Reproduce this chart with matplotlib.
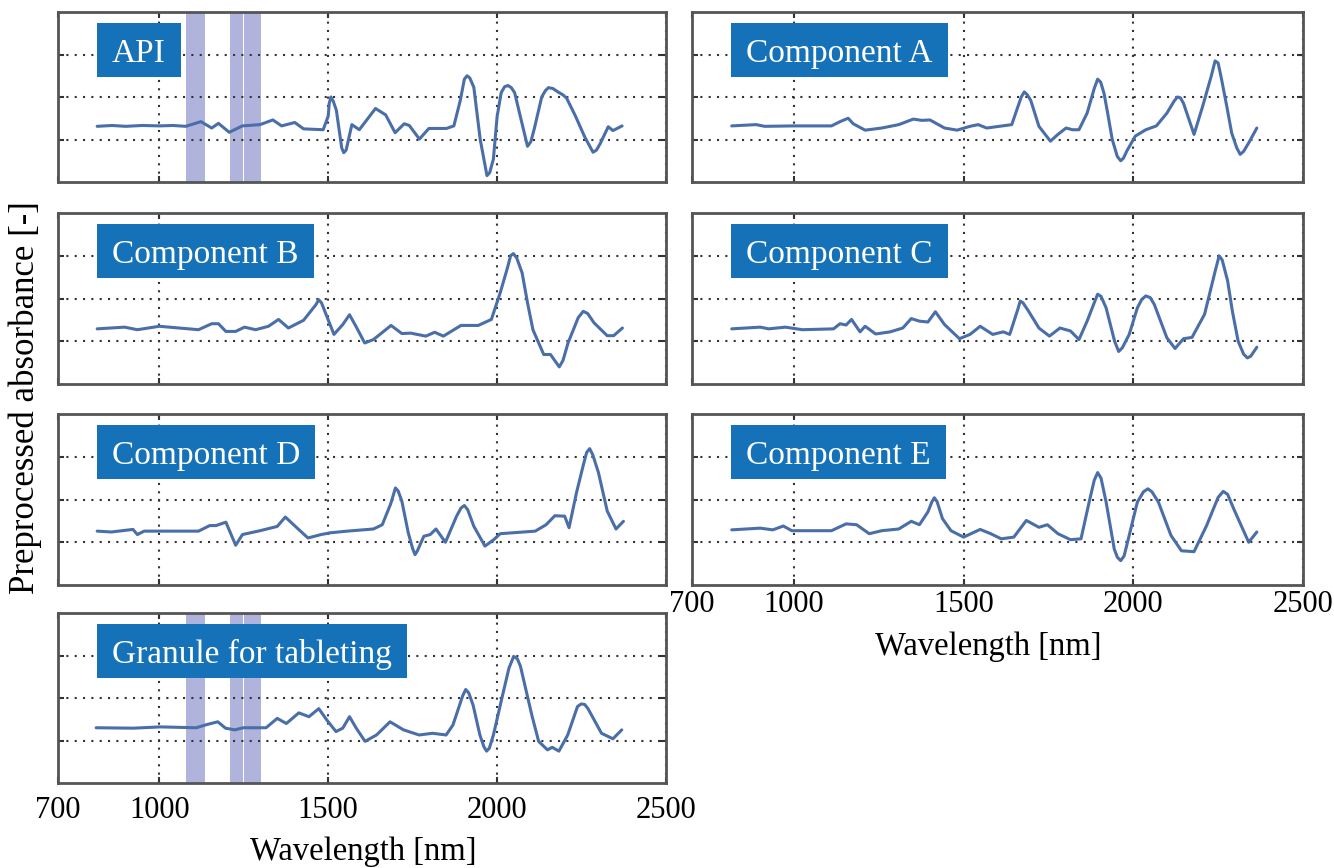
import matplotlib
matplotlib.use("Agg")
import matplotlib.pyplot as plt
import numpy as np
from matplotlib.patches import Rectangle

plt.rcParams['font.family'] = ['Liberation Serif', 'DejaVu Serif']

# ---------------- data ----------------
xticks = [700, 1000, 1500, 2000, 2500]
xticklabels = ["700", "1000", "1500", "2000", "2500"]
bands = [(1080, 1135), (1210, 1249), (1252, 1300)]

api_nm = [816, 860, 900, 950, 1000, 1040, 1078, 1123, 1155, 1175, 1207, 1246, 1298, 1336, 1362,
          1401, 1427, 1485, 1500, 1503, 1508, 1515, 1524, 1540, 1546, 1553, 1570, 1592, 1640, 1670,
          1698, 1725, 1740, 1770, 1798, 1850, 1872, 1891, 1903, 1911, 1919, 1931, 1950, 1970, 1978,
          1989, 2000, 2012, 2022, 2032, 2042, 2052, 2070, 2090, 2100, 2110, 2132, 2143, 2152, 2165,
          2180, 2195, 2206, 2232, 2260, 2284, 2294, 2305, 2329, 2343, 2370]
api_val = [1.31, 1.33, 1.31, 1.33, 1.32, 1.33, 1.31, 1.42, 1.27, 1.38, 1.17, 1.32, 1.35, 1.46, 1.32,
           1.40, 1.25, 1.23, 1.55, 1.85, 2.0, 1.9, 1.69, 0.8, 0.69, 0.75, 1.35, 1.23, 1.73, 1.58,
           1.16, 1.37, 1.33, 1.01, 1.26, 1.26, 1.32, 1.92, 2.42, 2.5, 2.45, 2.23, 1.0, 0.15, 0.22,
           0.54, 1.54, 2.1, 2.24, 2.27, 2.22, 2.1, 1.5, 0.84, 0.95, 1.25, 2.0, 2.15, 2.22, 2.2,
           2.12, 2.05, 1.97, 1.55, 1.05, 0.70, 0.75, 0.90, 1.30, 1.21, 1.32]

a_nm = [817, 889, 914, 1000, 1111, 1136, 1160, 1175, 1210, 1259, 1309, 1352, 1377, 1401, 1444,
        1481, 1519, 1543, 1568, 1605, 1642, 1660, 1670, 1679, 1688, 1698, 1722, 1756, 1778, 1802,
        1821, 1840, 1864, 1885, 1895, 1904, 1914, 1925, 1938, 1953, 1963, 1971, 1981, 2006, 2037,
        2068, 2099, 2120, 2130, 2139, 2148, 2179, 2204, 2230, 2241, 2250, 2259, 2275, 2290, 2305,
        2315, 2325, 2340, 2364]
a_val = [1.32, 1.35, 1.31, 1.32, 1.32, 1.42, 1.50, 1.37, 1.22, 1.27, 1.35, 1.48, 1.45, 1.46, 1.27,
         1.22, 1.31, 1.35, 1.27, 1.31, 1.35, 1.77, 2.0, 2.12, 2.05, 1.92, 1.31, 0.96, 1.12, 1.27,
         1.23, 1.23, 1.62, 2.2, 2.42, 2.35, 2.08, 1.6, 1.0, 0.6, 0.5, 0.56, 0.73, 1.08, 1.23,
         1.32, 1.62, 1.9, 2.0, 1.98, 1.85, 1.12, 1.77, 2.5, 2.85, 2.8, 2.46, 1.8, 1.15, 0.8,
         0.65, 0.72, 0.92, 1.27]

b_nm = [816, 897, 935, 1000, 1116, 1155, 1175, 1197, 1226, 1252, 1285, 1323, 1353, 1382, 1427,
        1463, 1472, 1480, 1492, 1517, 1543, 1563, 1582, 1608, 1634, 1686, 1718, 1744, 1789, 1815,
        1841, 1893, 1944, 1983, 2009, 2030, 2040, 2048, 2058, 2074, 2090, 2106, 2138, 2158, 2175,
        2184, 2195, 2210, 2240, 2255, 2268, 2287, 2326, 2345, 2371]
b_val = [1.29, 1.33, 1.27, 1.35, 1.27, 1.41, 1.41, 1.23, 1.23, 1.33, 1.27, 1.35, 1.51, 1.31, 1.49,
         1.85, 1.97, 1.9, 1.66, 1.16, 1.39, 1.62, 1.35, 0.96, 1.04, 1.37, 1.18, 1.19, 1.12, 1.21,
         1.12, 1.37, 1.37, 1.51, 2.13, 2.7, 3.0, 3.05, 2.95, 2.6, 1.9, 1.27, 0.69, 0.69, 0.5,
         0.40, 0.55, 0.96, 1.55, 1.70, 1.65, 1.43, 1.13, 1.13, 1.31]

c_nm = [817, 901, 926, 975, 1025, 1117, 1136, 1154, 1170, 1195, 1210, 1241, 1284, 1321, 1346,
        1370, 1395, 1417, 1444, 1488, 1519, 1549, 1586, 1617, 1636, 1660, 1667, 1675, 1691, 1722,
        1753, 1784, 1815, 1840, 1864, 1885, 1895, 1905, 1920, 1945, 1957, 1968, 1988, 2012, 2025,
        2037, 2050, 2062, 2099, 2123, 2148, 2173, 2210, 2240, 2253, 2262, 2278, 2292, 2309, 2325,
        2336, 2346, 2364]
c_val = [1.29, 1.33, 1.29, 1.33, 1.27, 1.29, 1.41, 1.38, 1.51, 1.22, 1.35, 1.17, 1.22, 1.31, 1.53,
         1.47, 1.45, 1.69, 1.39, 1.06, 1.16, 1.35, 1.16, 1.22, 1.16, 1.75, 1.94, 1.9, 1.71, 1.31,
         1.12, 1.31, 1.24, 1.04, 1.47, 1.9, 2.1, 2.05, 1.78, 1.0, 0.76, 0.85, 1.16, 1.78, 1.98,
         2.06, 2.02, 1.86, 1.08, 0.83, 1.06, 1.09, 1.63, 2.6, 3.0, 2.9, 2.41, 1.7, 1.0, 0.7,
         0.61, 0.65, 0.86]

d_nm = [816, 858, 922, 935, 955, 1116, 1149, 1168, 1197, 1226, 1246, 1298, 1349, 1373, 1407,
        1440, 1479, 1505, 1556, 1634, 1660, 1685, 1699, 1707, 1718, 1737, 1750, 1757, 1764, 1783,
        1802, 1819, 1847, 1880, 1893, 1903, 1913, 1931, 1964, 1990, 2009, 2113, 2145, 2171, 2200,
        2213, 2235, 2255, 2265, 2274, 2283, 2300, 2326, 2352, 2374]
d_val = [1.26, 1.24, 1.30, 1.18, 1.26, 1.26, 1.39, 1.39, 1.47, 0.93, 1.18, 1.27, 1.37, 1.59, 1.34,
         1.10, 1.18, 1.22, 1.26, 1.31, 1.41, 1.9, 2.27, 2.2, 1.96, 1.22, 0.85, 0.71, 0.8, 1.14,
         1.18, 1.31, 1.0, 1.61, 1.8, 1.86, 1.76, 1.375, 0.91, 1.06, 1.20, 1.26, 1.41, 1.62, 1.61,
         1.34, 2.16, 2.8, 3.1, 3.19, 3.05, 2.63, 1.73, 1.31, 1.49]

e_nm = [817, 901, 938, 969, 994, 1111, 1154, 1185, 1222, 1259, 1309, 1346, 1370, 1395, 1407,
        1414, 1422, 1438, 1463, 1500, 1549, 1580, 1611, 1648, 1685, 1722, 1747, 1778, 1815, 1846,
        1870, 1885, 1895, 1905, 1920, 1944, 1953, 1963, 1973, 1988, 2012, 2030, 2043, 2055, 2074,
        2111, 2142, 2179, 2216, 2250, 2265, 2278, 2296, 2340, 2364]
e_val = [1.29, 1.33, 1.29, 1.38, 1.27, 1.27, 1.43, 1.41, 1.20, 1.27, 1.31, 1.49, 1.41, 1.71, 1.95,
         2.04, 1.95, 1.55, 1.27, 1.12, 1.30, 1.20, 1.08, 1.12, 1.51, 1.35, 1.41, 1.20, 1.06, 1.08,
         1.94, 2.45, 2.63, 2.5, 1.94, 0.84, 0.65, 0.57, 0.68, 1.16, 1.94, 2.18, 2.25, 2.18, 1.94,
         1.16, 0.80, 0.78, 1.39, 2.05, 2.19, 2.12, 1.78, 1.0, 1.24]

g_nm = [813, 923, 1003, 1109, 1143, 1173, 1196, 1223, 1249, 1316, 1349, 1376, 1413, 1443, 1472,
        1496, 1523, 1543, 1563, 1583, 1609, 1643, 1683, 1723, 1769, 1809, 1849, 1869, 1898, 1907,
        1916, 1929, 1949, 1961, 1969, 1977, 1989, 2016, 2035, 2049, 2060, 2069, 2103, 2123, 2149,
        2163, 2183, 2209, 2238, 2249, 2259, 2269, 2309, 2343, 2369]
g_val = [1.30, 1.29, 1.32, 1.30, 1.38, 1.44, 1.29, 1.25, 1.30, 1.30, 1.52, 1.40, 1.65, 1.56, 1.75,
         1.48, 1.21, 1.29, 1.56, 1.29, 0.98, 1.13, 1.44, 1.25, 1.13, 1.17, 1.13, 1.36, 2.05, 2.20,
         2.12, 1.83, 1.13, 0.85, 0.75, 0.82, 1.13, 2.06, 2.7, 2.98, 2.92, 2.75, 1.59, 0.98, 0.78,
         0.84, 0.75, 1.13, 1.8, 1.86, 1.85, 1.75, 1.17, 1.04, 1.25]

# (label, x, y, column, row, shaded bands?, tick labels?)
panels = [
    ("API", api_nm, api_val, 0, 0, True, False),
    ("Component B", b_nm, b_val, 0, 1, False, False),
    ("Component D", d_nm, d_val, 0, 2, False, False),
    ("Granule for tableting", g_nm, g_val, 0, 3, True, True),
    ("Component A", a_nm, a_val, 1, 0, False, False),
    ("Component C", c_nm, c_val, 1, 1, False, False),
    ("Component E", e_nm, e_val, 1, 2, False, True),
]

# ---------------- layout ----------------
W, H = 1334, 868
fig = plt.figure(figsize=(W / 100, H / 100), dpi=100)
cols = [(58, 666), (692, 1303)]
rows = [(12, 182), (213, 384), (414, 585), (613, 783)]
line_color = "#4a6ea8"
box_color = "#1572b9"
renderer = fig.canvas.get_renderer()

for name, xs, ys, c, r, shade, showx in panels:
    x0, x1 = cols[c]
    y0, y1 = rows[r]
    axw, axh = x1 - x0, y1 - y0
    ax = fig.add_axes([x0 / W, 1 - y1 / H, axw / W, axh / H])
    ax.set_xlim(700, 2500)
    ax.set_ylim(0, 4)
    ax.set_xticks(xticks)
    ax.set_yticks([1, 2, 3])
    ax.grid(True, linestyle=(0, (1, 3)), color="#333333", linewidth=1.5)
    ax.tick_params(direction="in", top=True, right=True, length=4, width=1.5,
                   color="#333333", labelsize=22, pad=9 if c == 0 else 3.5)
    ax.set_yticklabels([])
    if showx:
        ax.set_xticklabels(xticklabels)
    else:
        ax.set_xticklabels([])
    for sp in ax.spines.values():
        sp.set_color("#555555")
        sp.set_linewidth(2)
    if shade:
        for b0, b1 in bands:
            ax.axvspan(b0, b1, color="#b0b3dc", lw=0, zorder=1)
    order = np.argsort(xs)
    ax.plot(np.asarray(xs)[order], np.asarray(ys)[order], color=line_color, lw=2.2,
            solid_joinstyle="round", solid_capstyle="round", zorder=3)

    # label box
    bl = 39 / axw
    bb_ = 1 - 65 / axh
    t = ax.text(bl + 15 / axw, bb_ + 15 / axh, name, transform=ax.transAxes,
                fontsize=24, color="white", va="baseline", ha="left", zorder=6)
    tw = t.get_window_extent(renderer).width
    ax.add_patch(Rectangle((bl, bb_), (tw + 30) / axw, 54 / axh, transform=ax.transAxes,
                           facecolor=box_color, edgecolor="none", zorder=5))

fig.text(363 / W, 1 - 860 / H, "Wavelength [nm]", fontsize=23.5, ha="center", va="baseline")
fig.text(988 / W, 1 - 655 / H, "Wavelength [nm]", fontsize=23.5, ha="center", va="baseline")
fig.text(25 / W, 1 - 398 / H, "Preprocessed absorbance [-]", fontsize=25, rotation=90,
         ha="center", va="center")

fig.savefig("out.png", dpi=100)
